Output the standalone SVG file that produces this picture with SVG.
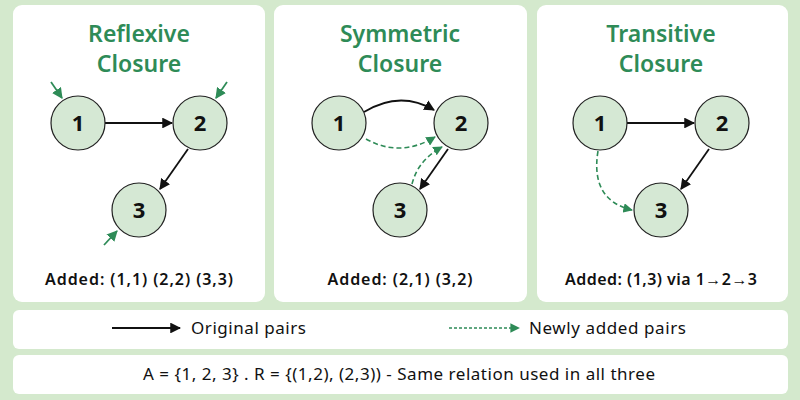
<svg xmlns="http://www.w3.org/2000/svg" width="800" height="400" viewBox="0 0 800 400">
<style>
.panel{fill:#fff}
.t{font-family:"Noto Sans","Open Sans",sans-serif;font-weight:600;font-size:23px;fill:#2e8b57;text-anchor:middle}
.n circle{fill:#d5e8d4;stroke:#222;stroke-width:1.2}
.n text{font-family:"Noto Sans",sans-serif;font-weight:700;font-size:22px;fill:#111;text-anchor:middle}
.lab{font-family:"Noto Sans",sans-serif;font-weight:600;font-size:16px;fill:#111;text-anchor:middle}
.leg{font-family:"Noto Sans",sans-serif;font-size:17px;fill:#111}
.o{fill:none;stroke:#111;stroke-width:1.8;marker-end:url(#ab)}
.d{fill:none;stroke:#2e8b57;stroke-width:1.6;stroke-dasharray:5 3;marker-end:url(#ag)}
.s{fill:none;stroke:#2e8b57;stroke-width:1.8;marker-end:url(#ag)}
</style>
<defs>
<marker id="ab" viewBox="0 0 10 10" refX="9" refY="5" markerWidth="6" markerHeight="6" markerUnits="strokeWidth" orient="auto"><path d="M0,0L10,5L0,10z" fill="#111"/></marker>
<marker id="ag" viewBox="0 0 10 10" refX="9" refY="5" markerWidth="6" markerHeight="6" markerUnits="strokeWidth" orient="auto"><path d="M0,0L10,5L0,10z" fill="#2e8b57"/></marker>
</defs>
<rect width="800" height="400" fill="#d4e9cd"/>
<rect class="panel" x="13" y="5" width="252" height="297" rx="9"/>
<rect class="panel" x="274" y="5" width="253" height="297" rx="9"/>
<rect class="panel" x="537" y="5" width="251" height="297" rx="9"/>
<rect class="panel" x="13" y="310" width="775" height="39" rx="6"/>
<rect class="panel" x="13" y="355" width="775" height="39" rx="6"/>
<text class="t" x="139" y="42">Reflexive</text><text class="t" x="139" y="72">Closure</text>
<text class="t" x="400" y="42">Symmetric</text><text class="t" x="400" y="72">Closure</text>
<text class="t" x="661" y="42">Transitive</text><text class="t" x="661" y="72">Closure</text>
<g id="connectors">
<line class="o" x1="105" y1="123" x2="172" y2="123"/>
<line class="o" x1="188" y1="149" x2="160" y2="189"/>
<path class="s" d="M51,82L62,98"/>
<path class="s" d="M227,82L216,98"/>
<path class="s" d="M104,245L117,231"/>
<path class="o" d="M364,112Q400,90 434,110"/>
<path class="d" d="M366,139Q400,158 435,137"/>
<path class="d" d="M412,184Q418,160 442,147"/>
<line class="o" x1="448" y1="149" x2="420" y2="189"/>
<line class="o" x1="627" y1="123" x2="694" y2="123"/>
<line class="o" x1="709" y1="149" x2="681" y2="189"/>
<path class="d" d="M598,151Q590,200 632,210"/>
<line class="o" x1="112" y1="328" x2="180" y2="328"/>
<line class="d" x1="449" y1="328" x2="519" y2="328" style="stroke-dasharray:3 2"/>
</g>
<g id="n1a" class="n"><circle cx="78" cy="123" r="27"/><text x="78" y="131">1</text></g>
<g id="n2a" class="n"><circle cx="200" cy="123" r="27"/><text x="200" y="131">2</text></g>
<g id="n3a" class="n"><circle cx="139" cy="210" r="27"/><text x="139" y="218">3</text></g>
<g id="n1b" class="n"><circle cx="339" cy="123" r="27"/><text x="339" y="131">1</text></g>
<g id="n2b" class="n"><circle cx="461" cy="123" r="27"/><text x="461" y="131">2</text></g>
<g id="n3b" class="n"><circle cx="400" cy="210" r="27"/><text x="400" y="218">3</text></g>
<g id="n1c" class="n"><circle cx="600" cy="123" r="27"/><text x="600" y="131">1</text></g>
<g id="n2c" class="n"><circle cx="722" cy="123" r="27"/><text x="722" y="131">2</text></g>
<g id="n3c" class="n"><circle cx="661" cy="210" r="27"/><text x="661" y="218">3</text></g>
<text class="lab" x="139" y="285" textLength="188">Added: (1,1) (2,2) (3,3)</text>
<text class="lab" x="400" y="285" textLength="145">Added: (2,1) (3,2)</text>
<text class="lab" x="661" y="285" textLength="192">Added: (1,3) via 1→2→3</text>
<text class="leg" x="191" y="334" textLength="115">Original pairs</text>
<text class="leg" x="529" y="334" textLength="157">Newly added pairs</text>
<text class="leg" x="399" y="380" text-anchor="middle" textLength="512">A = {1, 2, 3} . R = {(1,2), (2,3)) - Same relation used in all three</text>
</svg>
